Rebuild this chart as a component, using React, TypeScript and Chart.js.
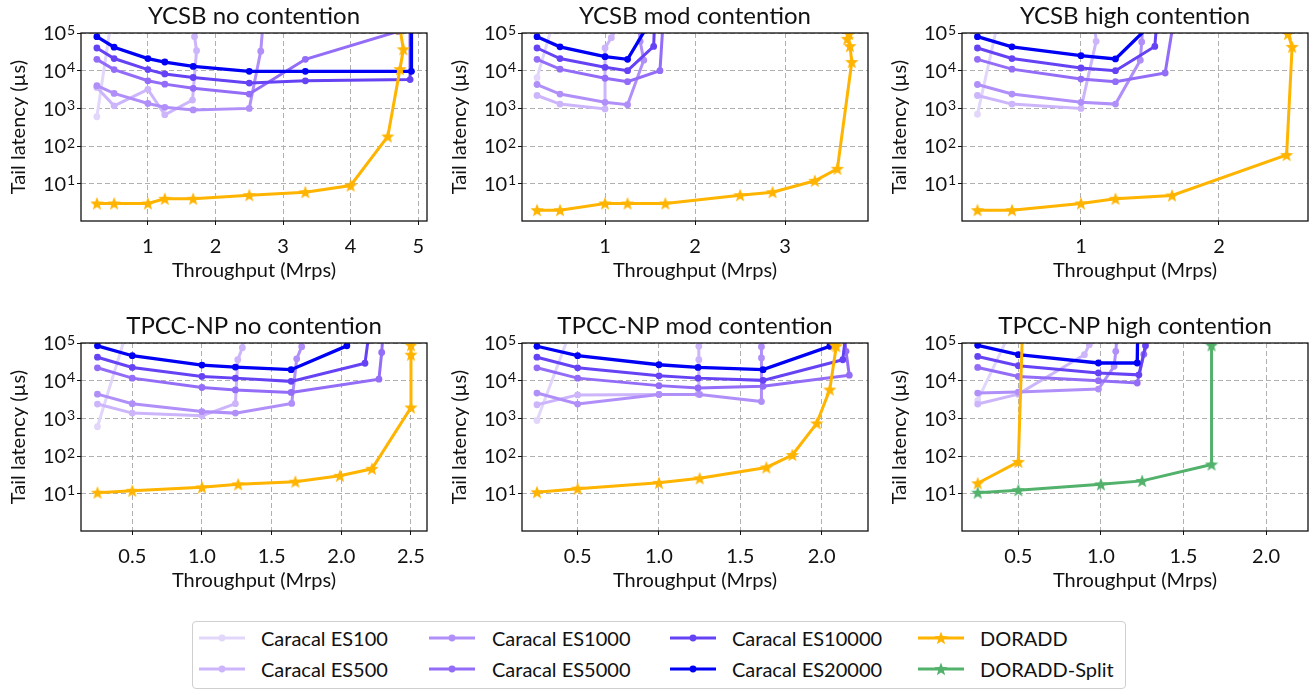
import React, { useEffect, useRef } from 'react';
import { Chart, registerables } from 'chart.js';

Chart.register(...registerables);

type Pt = [number, number];

const FONT = 'Lato, "Noto Sans", sans-serif';
const TEXT = '#111';

const SERIES_LABELS = [
  'Caracal ES100', 'Caracal ES500', 'Caracal ES1000', 'Caracal ES5000',
  'Caracal ES10000', 'Caracal ES20000', 'DORADD', 'DORADD-Split',
];
const SERIES_COLORS = [
  '#e2d7fb', '#ccb5fb', '#b08ff9', '#936cf7', '#6642f5', '#0000f5', '#ffb400', '#52b26b',
];

const Y_TICKS = [10, 100, 1000, 10000, 100000];

// ---------- YCSB no contention ----------
const ycsbNo_es100: Pt[] = [[0.245, 600], [0.47, 3e5]];
const ycsbNo_es500: Pt[] = [[0.245, 3600], [0.5, 1170], [1.0, 3200], [1.25, 680], [1.66, 1660], [1.72, 3.4e4], [1.69, 8e4], [1.69, 2e5]];
const ycsbNo_es1000: Pt[] = [[0.245, 4000], [0.5, 2500], [1.0, 1350], [1.25, 1070], [1.67, 910], [2.5, 1000], [2.67, 3.3e4], [2.7, 1.5e5]];
const ycsbNo_es5000: Pt[] = [[0.245, 2.0e4], [0.5, 1.07e4], [1.0, 5400], [1.25, 4400], [1.67, 3400], [2.5, 2400], [3.33, 2.0e4], [4.7, 1.1e5]];
const ycsbNo_es10000: Pt[] = [[0.245, 4.0e4], [0.5, 2.1e4], [1.0, 1.07e4], [1.25, 8200], [1.67, 6600], [2.5, 4700], [3.33, 5400], [4.88, 5800], [4.88, 1e6]];
const ycsbNo_es20000: Pt[] = [[0.245, 8.0e4], [0.5, 4.2e4], [1.0, 2.1e4], [1.25, 1.7e4], [1.67, 1.3e4], [2.5, 9600], [3.33, 9600], [4.9, 9600], [4.9, 1e6]];
const ycsbNo_doradd: Pt[] = [[0.245, 3], [0.5, 3], [1.0, 3], [1.25, 4], [1.67, 4], [2.5, 5], [3.33, 6], [4.0, 9], [4.55, 180], [4.73, 1.1e4], [4.78, 3.7e4], [4.73, 1.3e5]];

// ---------- YCSB mod contention ----------
const ycsbMod_es100: Pt[] = [[0.245, 6500], [0.42, 1.8e5]];
const ycsbMod_es500: Pt[] = [[0.245, 2200], [0.5, 1300], [1.0, 970], [1.0, 4.0e4], [1.07, 7.5e4], [1.14, 1.5e5]];
const ycsbMod_es1000: Pt[] = [[0.245, 4300], [0.5, 2400], [1.0, 1450], [1.25, 1250], [1.43, 1.9e4], [1.39, 6e4], [1.37, 2e5]];
const ycsbMod_es5000: Pt[] = [[0.245, 2.0e4], [0.5, 1.1e4], [1.0, 6300], [1.25, 5100], [1.61, 1.0e4], [1.645, 2e5]];
const ycsbMod_es10000: Pt[] = [[0.245, 4.0e4], [0.5, 2.1e4], [1.0, 1.23e4], [1.25, 1.0e4], [1.54, 4.4e4], [1.55, 2e5]];
const ycsbMod_es20000: Pt[] = [[0.245, 8.0e4], [0.5, 4.3e4], [1.0, 2.35e4], [1.25, 2.0e4], [1.5, 2e5]];
const ycsbMod_doradd: Pt[] = [[0.245, 2], [0.5, 2], [1.0, 3], [1.25, 3], [1.67, 3], [2.5, 5], [2.86, 6], [3.33, 12], [3.58, 25], [3.74, 1.7e4], [3.72, 4.5e4], [3.69, 7e4], [3.71, 9.5e4]];

// ---------- YCSB high contention ----------
const ycsbHigh_es100: Pt[] = [[0.25, 700], [0.41, 3e5]];
const ycsbHigh_es500: Pt[] = [[0.25, 2200], [0.5, 1300], [1.0, 1000], [1.11, 6e4], [1.1, 1.5e5]];
const ycsbHigh_es1000: Pt[] = [[0.25, 4300], [0.5, 2400], [1.0, 1450], [1.25, 1300], [1.43, 1.9e4], [1.44, 5.8e4], [1.45, 2e5]];
const ycsbHigh_es5000: Pt[] = [[0.25, 2.0e4], [0.5, 1.1e4], [1.0, 6000], [1.25, 5100], [1.61, 8700], [1.665, 1.5e5]];
const ycsbHigh_es10000: Pt[] = [[0.25, 4.0e4], [0.5, 2.1e4], [1.0, 1.18e4], [1.25, 1.0e4], [1.535, 4.4e4], [1.55, 2e5]];
const ycsbHigh_es20000: Pt[] = [[0.25, 8.0e4], [0.5, 4.3e4], [1.0, 2.5e4], [1.25, 2.05e4], [1.5, 1.6e5]];
const ycsbHigh_doradd: Pt[] = [[0.25, 2], [0.5, 2], [1.0, 3], [1.25, 4], [1.66, 4.9], [2.49, 58], [2.53, 4.3e4], [2.5, 9.5e4]];

// ---------- TPCC-NP no contention ----------
const tpccNo_es100: Pt[] = [[0.25, 600], [0.47, 2.6e5]];
const tpccNo_es500: Pt[] = [[0.25, 2400], [0.5, 1380], [1.0, 1170], [1.24, 2450], [1.257, 3.6e4], [1.29, 7.5e4], [1.3, 1.5e5]];
const tpccNo_es1000: Pt[] = [[0.25, 4400], [0.5, 2450], [1.0, 1520], [1.24, 1380], [1.644, 2500], [1.68, 3.8e4], [1.716, 8e4], [1.72, 2e5]];
const tpccNo_es5000: Pt[] = [[0.25, 2.2e4], [0.5, 1.17e4], [1.0, 6600], [1.24, 5700], [1.64, 4900], [2.27, 1.1e4], [2.29, 5.6e4], [2.3, 2e5]];
const tpccNo_es10000: Pt[] = [[0.25, 4.2e4], [0.5, 2.25e4], [1.0, 1.3e4], [1.24, 1.17e4], [1.64, 9600], [2.17, 2.9e4], [2.2, 2e5]];
const tpccNo_es20000: Pt[] = [[0.25, 8.4e4], [0.5, 4.6e4], [1.0, 2.6e4], [1.24, 2.3e4], [1.64, 1.96e4], [2.04, 8.4e4], [2.1, 2e5]];
const tpccNo_doradd: Pt[] = [[0.25, 10.7], [0.5, 12], [1.0, 14.8], [1.26, 17.8], [1.67, 21], [1.99, 30], [2.22, 46], [2.5, 1950], [2.5, 4.9e4], [2.5, 8.7e4]];

// ---------- TPCC-NP mod contention ----------
const tpccMod_es100: Pt[] = [[0.25, 880], [0.47, 3e5]];
const tpccMod_es500: Pt[] = [[0.25, 2300], [0.5, 4200], [1.0, 4300], [1.24, 4400], [1.245, 3.6e4], [1.245, 8.2e4], [1.245, 2e5]];
const tpccMod_es1000: Pt[] = [[0.25, 4700], [0.5, 2400], [1.0, 4300], [1.25, 4300], [1.63, 2800], [1.63, 4e4], [1.63, 8e4], [1.63, 2e5]];
const tpccMod_es5000: Pt[] = [[0.25, 2.2e4], [0.5, 1.17e4], [1.0, 7400], [1.24, 6400], [1.64, 7100], [2.17, 1.4e4], [2.15, 6e4], [2.14, 1.5e5]];
const tpccMod_es10000: Pt[] = [[0.25, 4.2e4], [0.5, 2.2e4], [1.0, 1.35e4], [1.24, 1.17e4], [1.64, 1.02e4], [2.13, 3.6e4], [2.15, 2e5]];
const tpccMod_es20000: Pt[] = [[0.25, 8.2e4], [0.5, 4.6e4], [1.0, 2.65e4], [1.24, 2.25e4], [1.64, 1.96e4], [2.05, 8.2e4], [2.1, 1.5e5]];
const tpccMod_doradd: Pt[] = [[0.25, 11], [0.5, 13.7], [1.0, 19.5], [1.25, 25.7], [1.66, 50], [1.82, 107], [1.97, 740], [2.05, 5800], [2.09, 8.2e4], [2.08, 9e4]];

// ---------- TPCC-NP high contention ----------
const tpccHigh_es100: Pt[] = [[0.254, 3000], [0.45, 1.9e5]];
const tpccHigh_es500: Pt[] = [[0.254, 2400], [0.5, 4400], [0.9, 4.9e4], [0.93, 9e4], [0.94, 2e5]];
const tpccHigh_es1000: Pt[] = [[0.254, 4700], [0.5, 5000], [0.985, 6000], [1.08, 2.4e4], [1.09, 6e4], [1.1, 2e5]];
const tpccHigh_es5000: Pt[] = [[0.254, 2.25e4], [0.5, 1.3e4], [0.985, 1.0e4], [1.22, 8700], [1.26, 5e4], [1.29, 1.5e5]];
const tpccHigh_es10000: Pt[] = [[0.254, 4.4e4], [0.5, 2.5e4], [0.985, 1.6e4], [1.23, 1.43e4], [1.27, 8.5e4], [1.28, 2e5]];
const tpccHigh_es20000: Pt[] = [[0.254, 8.7e4], [0.5, 4.9e4], [0.985, 2.95e4], [1.22, 2.95e4], [1.225, 1e6]];
const tpccHigh_doradd: Pt[] = [[0.254, 19], [0.5, 70], [0.53, 1e6]];
const tpccHigh_split: Pt[] = [[0.254, 10.7], [0.5, 12.5], [1.0, 17.8], [1.25, 22], [1.67, 60], [1.67, 8.7e4]];

// ---------- x-axis ticks ----------
const X_TICKS_YCSB_NO = [1, 2, 3, 4, 5];
const X_TICKS_YCSB_MOD = [1, 2, 3];
const X_TICKS_YCSB_HIGH = [1, 2];
const X_TICKS_TPCC_NO = [0.5, 1.0, 1.5, 2.0, 2.5];
const X_TICKS_TPCC_MOD = [0.5, 1.0, 1.5, 2.0];
const X_TICKS_TPCC_HIGH = [0.5, 1.0, 1.5, 2.0];

interface PanelCfg {
  title: string;
  xMin: number;
  xMax: number;
  xTicks: number[];
  decimals: number;
  series: (Pt[] | null)[];
  left: number;
  top: number;
}

const PANELS: PanelCfg[] = [
  { title: 'YCSB no contention', xMin: 0.01, xMax: 5.13, xTicks: X_TICKS_YCSB_NO, decimals: 0,
    series: [ycsbNo_es100, ycsbNo_es500, ycsbNo_es1000, ycsbNo_es5000, ycsbNo_es10000, ycsbNo_es20000, ycsbNo_doradd, null], left: 6, top: 0 },
  { title: 'YCSB mod contention', xMin: 0.078, xMax: 3.92, xTicks: X_TICKS_YCSB_MOD, decimals: 0,
    series: [ycsbMod_es100, ycsbMod_es500, ycsbMod_es1000, ycsbMod_es5000, ycsbMod_es10000, ycsbMod_es20000, ycsbMod_doradd, null], left: 447, top: 0 },
  { title: 'YCSB high contention', xMin: 0.138, xMax: 2.645, xTicks: X_TICKS_YCSB_HIGH, decimals: 0,
    series: [ycsbHigh_es100, ycsbHigh_es500, ycsbHigh_es1000, ycsbHigh_es5000, ycsbHigh_es10000, ycsbHigh_es20000, ycsbHigh_doradd, null], left: 887, top: 0 },
  { title: 'TPCC-NP no contention', xMin: 0.132, xMax: 2.615, xTicks: X_TICKS_TPCC_NO, decimals: 1,
    series: [tpccNo_es100, tpccNo_es500, tpccNo_es1000, tpccNo_es5000, tpccNo_es10000, tpccNo_es20000, tpccNo_doradd, null], left: 6, top: 310 },
  { title: 'TPCC-NP mod contention', xMin: 0.158, xMax: 2.285, xTicks: X_TICKS_TPCC_MOD, decimals: 1,
    series: [tpccMod_es100, tpccMod_es500, tpccMod_es1000, tpccMod_es5000, tpccMod_es10000, tpccMod_es20000, tpccMod_doradd, null], left: 447, top: 310 },
  { title: 'TPCC-NP high contention', xMin: 0.159, xMax: 2.254, xTicks: X_TICKS_TPCC_HIGH, decimals: 1,
    series: [tpccHigh_es100, tpccHigh_es500, tpccHigh_es1000, tpccHigh_es5000, tpccHigh_es10000, tpccHigh_es20000, tpccHigh_doradd, tpccHigh_split], left: 887, top: 310 },
];

const CW = 428;
const CH = 290;
const AXIS_W = 75;
const PLOT_W = 346;
const X_AXIS_H = 69;

function starPoints(cx: number, cy: number, r: number): [number, number][] {
  const pts: [number, number][] = [];
  for (let i = 0; i < 10; i++) {
    const a = -Math.PI / 2 + (i * Math.PI) / 5;
    const rr = i % 2 === 0 ? r : r * 0.42;
    pts.push([cx + rr * Math.cos(a), cy + rr * Math.sin(a)]);
  }
  return pts;
}

function makeStar(color: string, r: number): HTMLCanvasElement {
  const size = Math.ceil(r * 2 + 2);
  const c = document.createElement('canvas');
  c.width = size;
  c.height = size;
  const ctx = c.getContext('2d')!;
  ctx.beginPath();
  starPoints(size / 2, size / 2 + 0.5, r).forEach(([x, y], i) => (i ? ctx.lineTo(x, y) : ctx.moveTo(x, y)));
  ctx.closePath();
  ctx.fillStyle = color;
  ctx.fill();
  return c;
}

const framePlugin = {
  id: 'frame',
  afterDatasetsDraw(chart: any) {
    const { ctx, chartArea: a } = chart;
    ctx.save();
    ctx.strokeStyle = '#111';
    ctx.lineWidth = 1.3;
    ctx.strokeRect(a.left, a.top, a.right - a.left, a.bottom - a.top);
    ctx.restore();
  },
};

// tick labels drawn at the scales' own tick positions
const tickLabelPlugin = {
  id: 'ticklabels',
  afterDraw(chart: any) {
    const ctx = chart.ctx;
    const area = chart.chartArea;
    const ys = chart.scales.y;
    const xs = chart.scales.x;
    const decimals = chart.options.plugins.ticklabels.decimals;
    ctx.save();
    ctx.fillStyle = TEXT;
    ctx.textBaseline = 'alphabetic';
    ctx.textAlign = 'right';
    const right = area.left - 6;
    for (const t of ys.ticks) {
      const v = t.value;
      const y = ys.getPixelForValue(v);
      const exp = String(Math.round(Math.log10(v)));
      ctx.font = `14px ${FONT}`;
      const ew = ctx.measureText(exp).width;
      ctx.fillText(exp, right, y + 1.7);
      ctx.font = `20px ${FONT}`;
      ctx.fillText('10', right - ew - 0.8, y + 7.2);
    }
    ctx.textAlign = 'center';
    ctx.font = `20px ${FONT}`;
    for (const t of xs.ticks) {
      const x = xs.getPixelForValue(t.value);
      ctx.fillText(Number(t.value).toFixed(decimals), x, area.bottom + 32);
    }
    ctx.restore();
  },
};

function buildChart(canvas: HTMLCanvasElement, cfg: PanelCfg) {
  const stars = [makeStar(SERIES_COLORS[6], 7), makeStar(SERIES_COLORS[7], 7)];
  const datasets: any[] = [];
  cfg.series.forEach((pts, i) => {
    if (!pts) return;
    const isStar = i >= 6;
    datasets.push({
      label: SERIES_LABELS[i],
      data: pts.map(([x, y]) => ({ x, y })),
      borderColor: SERIES_COLORS[i],
      backgroundColor: SERIES_COLORS[i],
      borderWidth: i === 5 ? 3.3 : 3,
      pointStyle: isStar ? stars[i - 6] : 'circle',
      pointRadius: isStar ? 7 : 3.4,
      pointBorderWidth: 0,
      tension: 0,
      clip: 0,
      order: 20 - i,
    });
  });

  const gridCommon = {
    color: '#b0b0b0',
    lineWidth: 1,
    drawTicks: true,
    tickLength: 4,
    tickColor: '#111',
    tickWidth: 1,
  };

  return new Chart(canvas, {
    type: 'line',
    data: { datasets },
    options: {
      animation: false,
      responsive: false,
      maintainAspectRatio: false,
      devicePixelRatio: 1,
      events: [],
      layout: { autoPadding: false, padding: { left: 0, right: CW - AXIS_W - PLOT_W, top: 0, bottom: 0 } },
      plugins: {
        legend: { display: false },
        tooltip: { enabled: false },
        ticklabels: { decimals: cfg.decimals },
        title: {
          display: true,
          text: cfg.title,
          fullSize: false,
          color: TEXT,
          font: { family: FONT, size: 24, weight: 'normal', lineHeight: '24px' },
          padding: { top: 4, bottom: 5 },
        },
      },
      scales: {
        x: {
          type: 'linear',
          min: cfg.xMin,
          max: cfg.xMax,
          afterBuildTicks: (s: any) => {
            s.ticks = cfg.xTicks.map((v) => ({ value: v }));
          },
          afterFit: (s: any) => {
            s.height = X_AXIS_H;
          },
          ticks: { display: false },
          grid: gridCommon,
          border: { display: false, dash: [5, 3] },
          title: {
            display: true,
            text: 'Throughput (Mrps)',
            color: TEXT,
            font: { family: FONT, size: 20 },
            padding: { top: 0, bottom: 7 },
          },
        },
        y: {
          type: 'logarithmic',
          min: 1.03,
          max: 1e5,
          afterBuildTicks: (s: any) => {
            s.ticks = Y_TICKS.map((v) => ({ value: v }));
          },
          afterFit: (s: any) => {
            s.width = AXIS_W;
          },
          ticks: { display: false },
          grid: gridCommon,
          border: { display: false, dash: [5, 3] },
          title: {
            display: true,
            text: 'Tail latency (µs)',
            color: TEXT,
            font: { family: FONT, size: 20 },
            padding: { top: 1, bottom: 0 },
          },
        },
      },
    } as any,
    plugins: [framePlugin, tickLabelPlugin],
  });
}

function Panel({ cfg }: { cfg: PanelCfg }) {
  const ref = useRef<HTMLCanvasElement>(null);
  useEffect(() => {
    const chart = buildChart(ref.current!, cfg);
    return () => chart.destroy();
  }, [cfg]);
  return (
    <canvas
      ref={ref}
      width={CW}
      height={CH}
      style={{ position: 'absolute', left: cfg.left, top: cfg.top, width: CW, height: CH }}
    />
  );
}

function LegendHandle({ index }: { index: number }) {
  const color = SERIES_COLORS[index];
  const isStar = index >= 6;
  const pts = starPoints(23, 10.5, 7).map(([x, y]) => `${x.toFixed(2)},${y.toFixed(2)}`).join(' ');
  return (
    <svg width={46} height={20} style={{ position: 'absolute', left: 0, top: 2 }}>
      <line x1={0} y1={10} x2={46} y2={10} stroke={color} strokeWidth={3} />
      {isStar ? <polygon points={pts} fill={color} /> : <circle cx={23} cy={10} r={3.4} fill={color} />}
    </svg>
  );
}

const LEGEND_COL_HANDLE_X = [199, 429, 670, 918];
const LEGEND_COL_TEXT_X = [261, 492, 732, 980];
const LEGEND_ROW_Y = [638, 669];

function Legend() {
  return (
    <>
      <div
        style={{
          position: 'absolute', left: 192, top: 621, width: 932, height: 66,
          border: '1px solid #cfcfcf', borderRadius: 4, background: '#fff',
        }}
      />
      {SERIES_LABELS.map((label, i) => {
        const col = Math.floor(i / 2);
        const row = i % 2;
        const cy = LEGEND_ROW_Y[row];
        return (
          <React.Fragment key={i}>
            <div style={{ position: 'absolute', left: LEGEND_COL_HANDLE_X[col], top: cy - 12, width: 46, height: 24 }}>
              <LegendHandle index={i} />
            </div>
            <div
              style={{
                position: 'absolute', left: LEGEND_COL_TEXT_X[col], top: cy - 12, height: 24,
                lineHeight: '24px', fontSize: 20, fontFamily: FONT, color: TEXT, whiteSpace: 'nowrap',
              }}
            >
              {label}
            </div>
          </React.Fragment>
        );
      })}
    </>
  );
}

export default function App() {
  return (
    <div
      style={{
        position: 'fixed', left: 0, top: 0, width: 1315, height: 690,
        background: '#fff', overflow: 'hidden',
      }}
    >
      {PANELS.map((p, i) => (
        <Panel key={i} cfg={p} />
      ))}
      <Legend />
    </div>
  );
}
